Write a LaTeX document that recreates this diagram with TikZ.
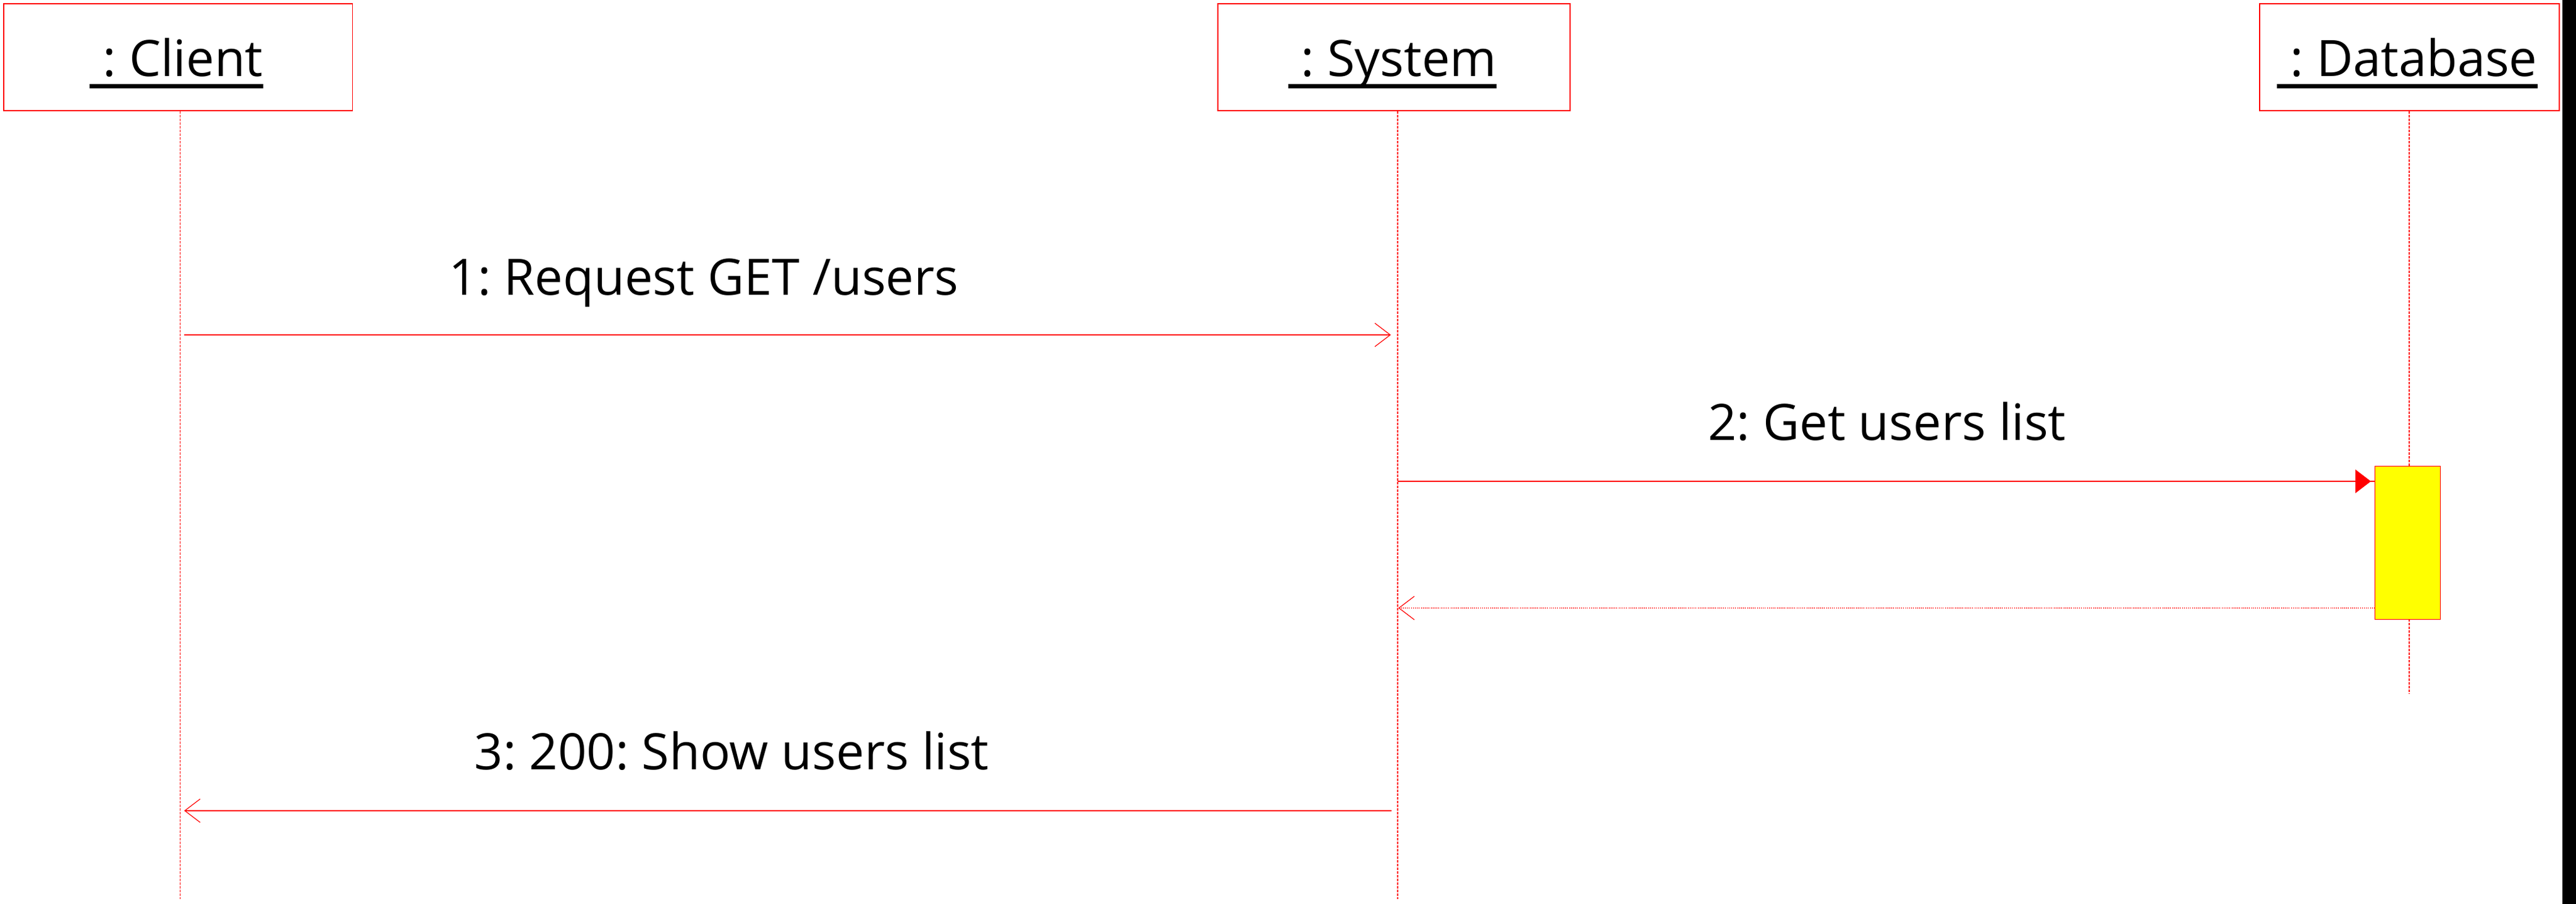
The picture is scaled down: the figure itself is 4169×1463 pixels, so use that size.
\documentclass[tikz,border=0pt]{standalone}
\usepackage{fontspec}
\setmainfont{Open Sans}
\usetikzlibrary{arrows.meta}
\definecolor{umlred}{RGB}{255,0,0}
\definecolor{actyellow}{RGB}{255,255,0}
\newsavebox\objbox
\newcommand\objul[1]{\sbox\objbox{#1}\rlap{\rule[-4.74pt]{\wd\objbox}{1.675pt}}\usebox\objbox}
\frenchspacing
\begin{document}
\begin{tikzpicture}[x=0.25pt,y=-0.25pt,
  lbl/.style={font=\fontsize{20.3pt}{24pt}\selectfont, inner sep=0pt, anchor=base, text=black},
  objbox/.style={draw=umlred, line width=0.35pt, fill=white, inner sep=0pt, minimum height=43.25pt},
  lifeline/.style={draw=umlred, line width=0.3pt, dash pattern=on 1pt off 0.5pt},
  msg/.style={draw=umlred, line width=0.3pt, -{Straight Barb[length=6.25pt,width=9.5pt]}},
  retmsg/.style={msg, dash pattern=on 0.25pt off 0.55pt},
  actbox/.style={draw=umlred, fill=actyellow, line width=0.35pt, inner sep=0pt, minimum width=26.5pt, minimum height=62pt}
]
\useasboundingbox (0,0) rectangle (4169,1463);
\fill[white] (0,0) rectangle (4169,1463);
\fill[black] (4147,0) rectangle (4169,1463);

% lifeline ends
\coordinate (clientend) at (291.5,1455);
\coordinate (systemend) at (2262,1455);
\coordinate (dbend) at (3899,1123);

% object boxes
\node[objbox, minimum width=141.1pt] (client) at (288.25,92.5) {};
\node[objbox, minimum width=142.5pt] (system) at (2256,92.5) {};
\node[objbox, minimum width=121.25pt] (db) at (3899.5,92.5) {};

\node[lbl] (clientlbl) at (285.5,124) {\objul{\ : Client}};
\node[lbl] (systemlbl) at (2253.5,124) {\objul{\ : System}};
\node[lbl] (dblbl) at (3896,124) {\objul{\ : Database}};

% lifelines
\draw[lifeline] (client.south -| clientend) -- (clientend);
\draw[lifeline] (system.south -| systemend) -- (systemend);
\draw[lifeline] (db.south -| dbend) -- (dbend);

% activation
\node[actbox, anchor=north west] (act) at (3843,754) {};

% message 1
\coordinate (m1a) at (298,542);
\coordinate (m1b) at (2251,542);
\draw[msg] (m1a) -- (m1b);
\node[lbl] (m1lbl) at (1139,478) {1: Request GET /users};

% message 2
\coordinate (m2a) at (2262,779);
\draw[umlred, line width=0.3pt] (m2a) -- (act.north west |- m2a);
\draw[umlred, line width=0.3pt, -{Triangle[length=6.25pt,width=9.5pt]}, shorten >=1.5pt] (m2a) -- (act.north west |- m2a);
\node[lbl] (m2lbl) at (3054,713) {2: Get users list};

% return
\coordinate (rt) at (2263,984);
\draw[retmsg] (act.south west |- rt) -- (rt);

% message 3
\coordinate (m3a) at (2252,1312);
\coordinate (m3b) at (298,1312);
\draw[msg] (m3a) -- (m3b);
\node[lbl] (m3lbl) at (1184,1246) {3: 200: Show users list};
\end{tikzpicture}
\end{document}
